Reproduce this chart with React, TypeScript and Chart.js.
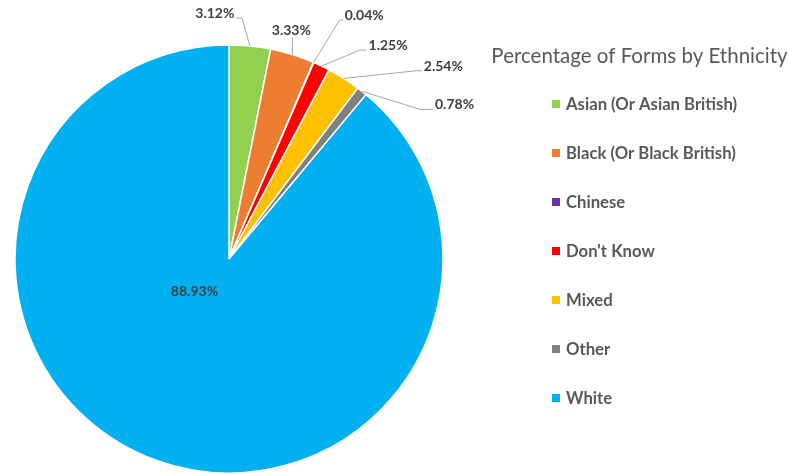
import { useEffect, useRef } from "react";
import { Chart, registerables } from "chart.js";

Chart.register(...registerables);

const categories = [
  "Asian (Or Asian British)",
  "Black (Or Black British)",
  "Chinese",
  "Don't Know",
  "Mixed",
  "Other",
  "White",
];
const values = [3.12, 3.33, 0.04, 1.25, 2.54, 0.78, 88.93];
const colors = ["#92D050", "#ED7D31", "#7030A0", "#FF0000", "#FFC000", "#808080", "#00B0F0"];
const chartTitle = "Percentage of Forms by Ethnicity";

const FONT = "Lato, 'Open Sans', sans-serif";

// label placement (layout only): elbow offset from arc mid-point, horizontal tail length
type Place =
  | { mode: "out"; ex: number; ey: number; h: number; align: "left" | "right" | "top" }
  | { mode: "in"; dx: number; dy: number };
const placements: Place[] = [
  { mode: "out", ex: -8, ey: -28, h: -6, align: "left" },
  { mode: "out", ex: 0, ey: -17, h: 0, align: "top" },
  { mode: "out", ex: 26, ey: -42.5, h: 3, align: "right" },
  { mode: "out", ex: 38.5, ey: -16, h: 6.5, align: "right" },
  { mode: "out", ex: 73, ey: -7.7, h: 5, align: "right" },
  { mode: "out", ex: 58, ey: 18, h: 13, align: "right" },
  { mode: "in", dx: -34.5, dy: 37 },
];

const labelPlugin = {
  id: "pieLabels",
  afterDatasetsDraw(chart: any) {
    const ctx = chart.ctx as CanvasRenderingContext2D;
    const meta = chart.getDatasetMeta(0);
    const ds = chart.data.datasets[0];
    ctx.save();
    ctx.font = `bold 14px ${FONT}`;
    ctx.fillStyle = "#404040";
    ctx.textBaseline = "alphabetic";
    meta.data.forEach((arc: any, i: number) => {
      const p = arc.getProps(["x", "y", "startAngle", "endAngle", "outerRadius"], true);
      const txt = (ds.data[i] as number).toFixed(2) + "%";
      const pl = placements[i];
      if (pl.mode === "in") {
        ctx.textAlign = "center";
        ctx.fillText(txt, p.x + pl.dx, p.y + pl.dy);
        return;
      }
      const mid = (p.startAngle + p.endAngle) / 2;
      const ax = p.x + Math.cos(mid) * p.outerRadius;
      const ay = p.y + Math.sin(mid) * p.outerRadius;
      const ex = ax + pl.ex;
      const ey = ay + pl.ey;
      const hx = ex + pl.h;
      ctx.strokeStyle = "#A6A6A6";
      ctx.lineWidth = 1;
      ctx.beginPath();
      ctx.moveTo(ax, ay);
      ctx.lineTo(ex, ey);
      ctx.lineTo(hx, ey);
      ctx.stroke();
      if (pl.align === "top") {
        ctx.textAlign = "center";
        ctx.fillText(txt, ex - 1, ey - 3);
      } else if (pl.align === "left") {
        ctx.textAlign = "right";
        ctx.fillText(txt, hx - 1.5, ey);
      } else {
        ctx.textAlign = "left";
        ctx.fillText(txt, hx + 2, ey);
      }
    });
    ctx.restore();
  },
};

const legendPlugin = {
  id: "sideLegend",
  afterDraw(chart: any) {
    const ctx = chart.ctx as CanvasRenderingContext2D;
    const labels = chart.data.labels as string[];
    const bg = chart.data.datasets[0].backgroundColor as string[];
    ctx.save();
    ctx.fillStyle = "#595959";
    ctx.font = `20.5px ${FONT}`;
    ctx.textAlign = "center";
    ctx.textBaseline = "alphabetic";
    ctx.fillText(chartTitle, 639.5, 63);
    ctx.font = `bold 16.7px ${FONT}`;
    ctx.textAlign = "left";
    ctx.textBaseline = "middle";
    labels.forEach((lab, i) => {
      const y = 104 + i * 49;
      ctx.fillStyle = bg[i];
      ctx.fillRect(552, y - 4, 8, 8);
      ctx.fillStyle = "#595959";
      ctx.fillText(lab, 566, y + 1);
    });
    ctx.restore();
  },
};

export default function App() {
  const ref = useRef<HTMLCanvasElement | null>(null);
  useEffect(() => {
    document.body.style.margin = "0";
    if (!ref.current) return;
    const chart = new Chart(ref.current, {
      type: "pie",
      data: {
        labels: categories,
        datasets: [
          {
            data: values,
            backgroundColor: colors,
            borderColor: "#FFFFFF",
            borderWidth: 1.5,
          },
        ],
      },
      options: {
        animation: false,
        responsive: true,
        maintainAspectRatio: false,
        radius: 214,
        layout: { padding: { left: 15, top: 45, right: 346, bottom: 1 } },
        plugins: {
          legend: { display: false },
          tooltip: { enabled: false },
          title: { display: false },
        },
      } as any,
      plugins: [labelPlugin, legendPlugin],
    });
    return () => chart.destroy();
  }, []);
  return (
    <div style={{ position: "absolute", left: 0, top: 0, width: 789, height: 474 }}>
      <canvas ref={ref} />
    </div>
  );
}
